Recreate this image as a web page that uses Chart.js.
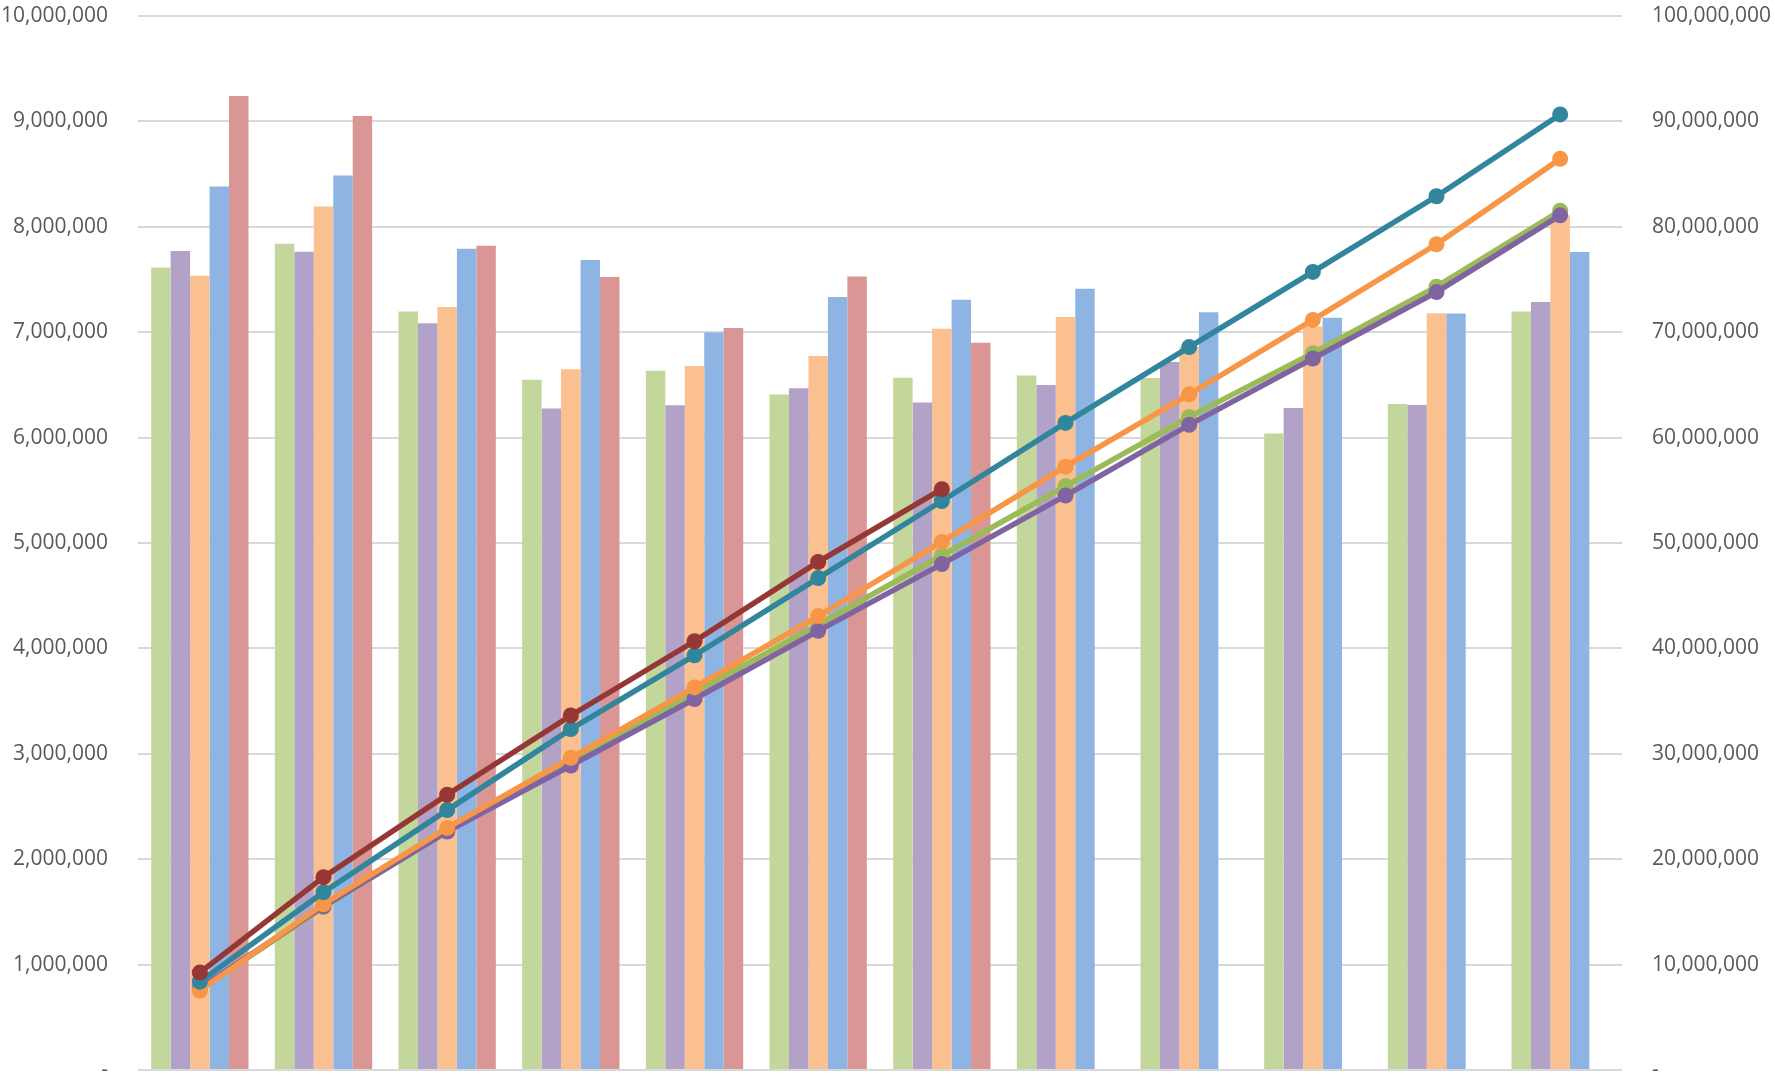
<!DOCTYPE html>
<html>
<head>
<meta charset="utf-8">
<script src="https://cdn.jsdelivr.net/npm/chart.js@4.4.1/dist/chart.umd.min.js"></script>
<style>
  html, body { margin: 0; padding: 0; background: #fff; }
  #wrap { width: 1775px; height: 1078px; }
</style>
</head>
<body>
<div id="wrap"><canvas id="chart" width="1775" height="1078"></canvas></div>
<script>
// ─── DATA ──────────────────────────────────────────────────────
const months = ["Jan", "Feb", "Mar", "Apr", "May", "Jun", "Jul", "Aug", "Sep", "Oct", "Nov", "Dec"];

// monthly amounts (left axis)
const greenMonthly  = [7614000, 7839000, 7197000, 6550000, 6635000, 6408000, 6569000, 6588000, 6566000, 6038000, 6319000, 7197000];
const purpleMonthly = [7770000, 7763000, 7084000, 6275000, 6306000, 6468000, 6332000, 6500000, 6717000, 6280000, 6310000, 7286000];
const orangeMonthly = [7535000, 8193000, 7239000, 6648000, 6680000, 6774000, 7033000, 7144000, 6860000, 7055000, 7180000, 8104000];
const blueMonthly   = [8382000, 8486000, 7791000, 7684000, 6998000, 7334000, 7308000, 7412000, 7190000, 7137000, 7178000, 7760000];
const redMonthly    = [9242000, 9052000, 7820000, 7523000, 7040000, 7529000, 6900000, null, null, null, null, null];

// running totals (right axis)
const greenTotal  = [7614000, 15453000, 22650000, 29200000, 35835000, 42243000, 48812000, 55400000, 61966000, 68004000, 74323000, 81520000];
const purpleTotal = [7770000, 15533000, 22617000, 28892000, 35198000, 41666000, 47998000, 54498000, 61215000, 67495000, 73805000, 81091000];
const orangeTotal = [7535000, 15728000, 22967000, 29615000, 36295000, 43069000, 50102000, 57246000, 64106000, 71161000, 78341000, 86445000];
const tealTotal   = [8382000, 16868000, 24659000, 32343000, 39341000, 46675000, 53983000, 61395000, 68585000, 75722000, 82900000, 90660000];
const redTotal    = [9242000, 18294000, 26114000, 33637000, 40677000, 48206000, 55106000];

const leftTicks = { min: 0, max: 10000000, step: 1000000 };
const rightTicks = { min: 0, max: 100000000, step: 10000000 };

// ─── HELPERS ───────────────────────────────────────────────────
const tickText = (v) => (v === 0 ? "-" : Number(v).toLocaleString("en-US"));

function barSet(label, data, color) {
  return {
    type: "bar",
    label,
    data,
    yAxisID: "y",
    backgroundColor: color,
    borderWidth: 0,
    order: 10,
  };
}

function lineSet(label, data, color, order) {
  return {
    type: "line",
    label,
    data,
    yAxisID: "y1",
    borderColor: color,
    backgroundColor: color,
    borderWidth: 5.5,
    pointRadius: 8,
    pointBorderWidth: 0,
    pointBackgroundColor: color,
    tension: 0,
    fill: false,
    order,
  };
}

// axes keep a fixed width and no extra label overhang, so the plot box stays put
function fixAxis(width) {
  return (axis) => {
    axis.width = width;
    axis.paddingTop = 0;
    axis.paddingBottom = 0;
  };
}

// ─── CHART ─────────────────────────────────────────────────────
new Chart(document.getElementById("chart"), {
  data: {
    labels: months,
    datasets: [
      barSet("Green", greenMonthly, "#c3d69b"),
      barSet("Purple", purpleMonthly, "#b3a2c7"),
      barSet("Orange", orangeMonthly, "#fac090"),
      barSet("Blue", blueMonthly, "#8eb4e3"),
      barSet("Red", redMonthly, "#d99694"),
      lineSet("Green total", greenTotal, "#9bbb59", 5),
      lineSet("Purple total", purpleTotal, "#8064a2", 4),
      lineSet("Orange total", orangeTotal, "#f79646", 3),
      lineSet("Teal total", tealTotal, "#31859c", 2),
      lineSet("Red total", redTotal, "#953735", 1),
    ],
  },
  options: {
    responsive: false,
    animation: false,
    layout: { padding: { top: 16, bottom: 6, left: 0, right: 0 } },
    datasets: { bar: { categoryPercentage: 0.787, barPercentage: 1 } },
    plugins: { legend: { display: false }, tooltip: { enabled: false } },
    scales: {
      x: { display: false },
      y: {
        position: "left",
        min: leftTicks.min,
        max: leftTicks.max,
        border: { display: false },
        grid: { color: "#d9d9d9", lineWidth: 2, drawTicks: false },
        ticks: {
          stepSize: leftTicks.step,
          padding: 30,
          color: "#595959",
          font: { family: "'Open Sans'", size: 21 },
          callback: tickText,
        },
        afterFit: fixAxis(138),
      },
      y1: {
        position: "right",
        min: rightTicks.min,
        max: rightTicks.max,
        border: { display: false },
        grid: { drawOnChartArea: false, drawTicks: false },
        ticks: {
          stepSize: rightTicks.step,
          padding: 30,
          color: "#595959",
          font: { family: "'Open Sans'", size: 21 },
          callback: tickText,
        },
        afterFit: fixAxis(153),
      },
    },
  },
});
</script>
</body>
</html>
